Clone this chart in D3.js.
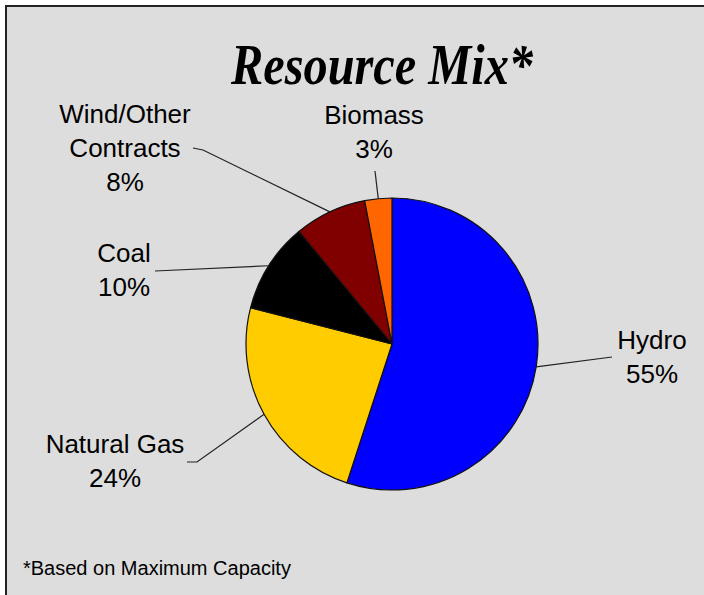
<!DOCTYPE html>
<html>
<head>
<meta charset="utf-8">
<script src="https://cdn.jsdelivr.net/npm/d3@7"></script>
<style>
  html, body { margin: 0; padding: 0; background: #ffffff; }
  svg { display: block; }
</style>
</head>
<body>
<svg id="chart" width="704" height="595"></svg>
<script>
// ---- data ----
const categories = ["Hydro", "Natural Gas", "Coal", "Wind/Other Contracts", "Biomass"];
const values = [55, 24, 10, 8, 3];
const labelLines = [["Hydro"], ["Natural Gas"], ["Coal"], ["Wind/Other", "Contracts"], ["Biomass"]];
const percentLabels = ["55%", "24%", "10%", "8%", "3%"];
const colors = ["#0000ff", "#ffcc00", "#000000", "#800000", "#ff6600"];
const titleText = "Resource Mix*";
const footnote = "*Based on Maximum Capacity";

// ---- layout ----
const W = 704, H = 595;
const cx = 392, cy = 344, R = 146;
// label layout: text center x, first baseline y, leader polyline points after the pie-edge point
const labelLayout = [
  { x: 652, y: 349, leader: [[612, 357]] },
  { x: 115, y: 453, leader: [[197, 462], [187, 462]] },
  { x: 124, y: 262, leader: [[155, 271]] },
  { x: 125, y: 123, leader: [[203, 150], [193, 148]] },
  { x: 374, y: 124, leader: [[375, 171]] }
];
const lineGap = 34;

const svg = d3.select("#chart");

// frame
svg.append("rect")
  .attr("x", 6).attr("y", 6)
  .attr("width", W + 10).attr("height", H + 10)
  .attr("fill", "#dddddd")
  .attr("stroke", "#222")
  .attr("stroke-width", 2);

// title
svg.append("text")
  .attr("x", 382).attr("y", 84)
  .attr("text-anchor", "middle")
  .attr("font-family", "'Liberation Serif', 'Times New Roman', serif")
  .attr("font-weight", "bold")
  .attr("font-style", "italic")
  .attr("font-size", 56)
  .attr("textLength", 302)
  .attr("lengthAdjust", "spacingAndGlyphs")
  .attr("fill", "#000")
  .text(titleText);

// pie
const pie = d3.pie().sort(null).value(d => d)(values);
const arc = d3.arc().innerRadius(0).outerRadius(R);
const edgeArc = d3.arc().innerRadius(R).outerRadius(R);

const g = svg.append("g").attr("transform", `translate(${cx},${cy})`);
g.selectAll("path.slice")
  .data(pie)
  .join("path")
  .attr("class", "slice")
  .attr("d", arc)
  .attr("fill", (d, i) => colors[i])
  .attr("stroke", "#111")
  .attr("stroke-width", 1.2)
  .attr("stroke-linejoin", "round");

// leader lines
const line = d3.line();
pie.forEach((d, i) => {
  const [ex, ey] = edgeArc.centroid(d);
  const pts = [[cx + ex, cy + ey]].concat(labelLayout[i].leader);
  svg.append("path")
    .attr("d", line(pts))
    .attr("fill", "none")
    .attr("stroke", "#222")
    .attr("stroke-width", 1.2);
});

// labels
labelLines.forEach((lines, i) => {
  const L = labelLayout[i];
  const t = svg.append("text")
    .attr("text-anchor", "middle")
    .attr("font-family", "'Liberation Sans', Arial, sans-serif")
    .attr("font-size", 26)
    .attr("fill", "#000");
  lines.concat([percentLabels[i]]).forEach((s, k) => {
    t.append("tspan").attr("x", L.x).attr("y", L.y + k * lineGap).text(s);
  });
});

// footnote
svg.append("text")
  .attr("x", 23).attr("y", 575)
  .attr("font-family", "'Liberation Sans', Arial, sans-serif")
  .attr("font-size", 20)
  .attr("fill", "#000")
  .text(footnote);
</script>
</body>
</html>
